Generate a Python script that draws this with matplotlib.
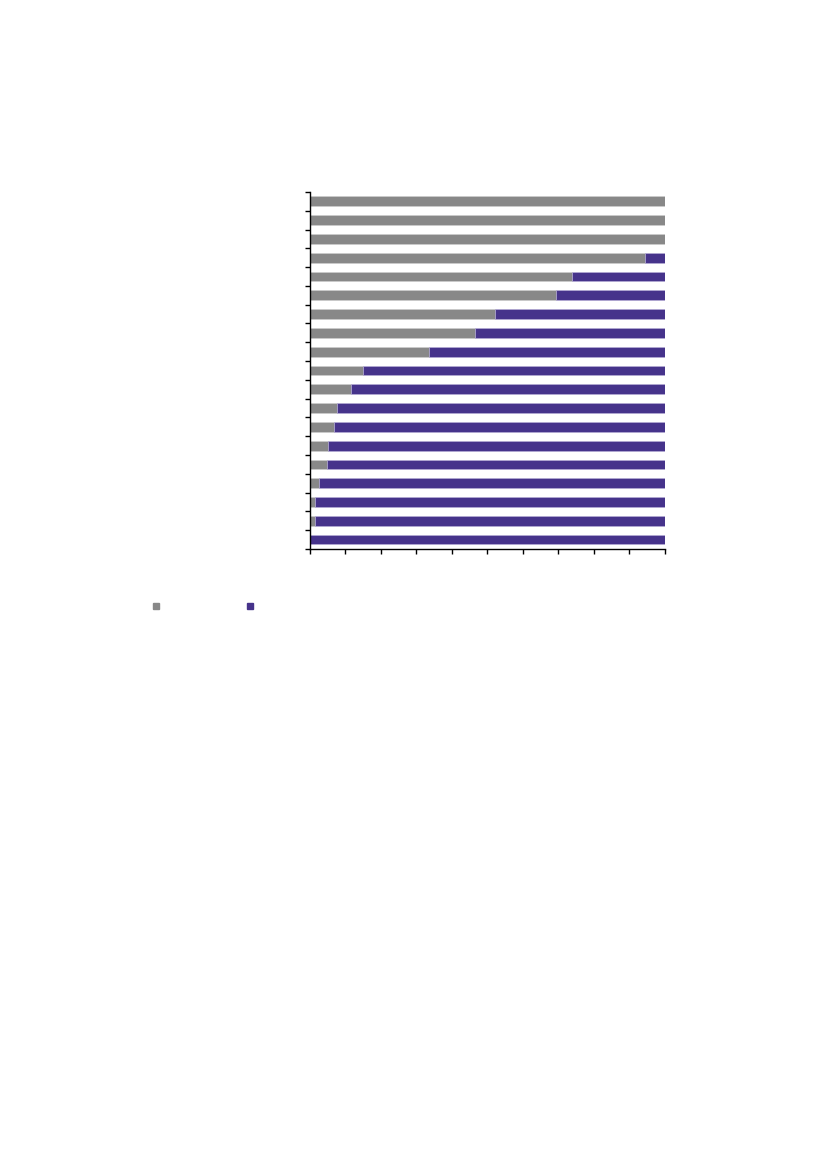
import numpy as np
import matplotlib
matplotlib.use('Agg')
import matplotlib.pyplot as plt
from matplotlib.lines import Line2D

# share of first series (grey), remainder is second series (purple), in %
grey_share = [100, 100, 100, 94.3, 73.7, 69.4, 52.2, 46.6, 33.6, 14.8,
              11.5, 7.5, 6.9, 5.2, 4.7, 2.6, 1.3, 1.3, 0]
purple_share = [100 - g for g in grey_share]
x_ticks = list(range(0, 101, 10))

GREY = '#888888'
PURPLE = '#46338b'

fig = plt.figure(figsize=(8.27, 11.69), dpi=100)
ax = fig.add_axes([0.3748, 0.5304, 0.4293, 0.3054])

pos = np.arange(len(grey_share))
ax.barh(pos, grey_share, height=0.52, color=GREY, edgecolor='#cfcfcf', linewidth=0.4)
ax.barh(pos, purple_share, left=grey_share, height=0.52, color=PURPLE,
        edgecolor='#b9b0d8', linewidth=0.4)

ax.set_xlim(0, 100)
ax.set_ylim(len(grey_share) - 0.5, -0.5)
ax.set_xticks(x_ticks)
ax.set_yticks(np.arange(-0.5, len(grey_share), 1.0))
ax.set_xticklabels([])
ax.set_yticklabels([])
ax.tick_params(axis='both', direction='out', length=3.5, width=1, color='black')
for side in ('top', 'right'):
    ax.spines[side].set_visible(False)
for side in ('left', 'bottom'):
    ax.spines[side].set_linewidth(1)
    ax.spines[side].set_color('black')

# legend markers only (labels are blank in the reference)
handles = [Line2D([], [], marker='s', linestyle='none', markersize=4, color=GREY),
           Line2D([], [], marker='s', linestyle='none', markersize=4, color=PURPLE)]
fig.legend(handles, [' ', ' '], ncol=2, loc='center left',
           bbox_to_anchor=(0.173, 0.4807), frameon=False, handlelength=0.6,
           handletextpad=0.2, columnspacing=7.35, fontsize=8)

fig.savefig('out.png', dpi=100)
